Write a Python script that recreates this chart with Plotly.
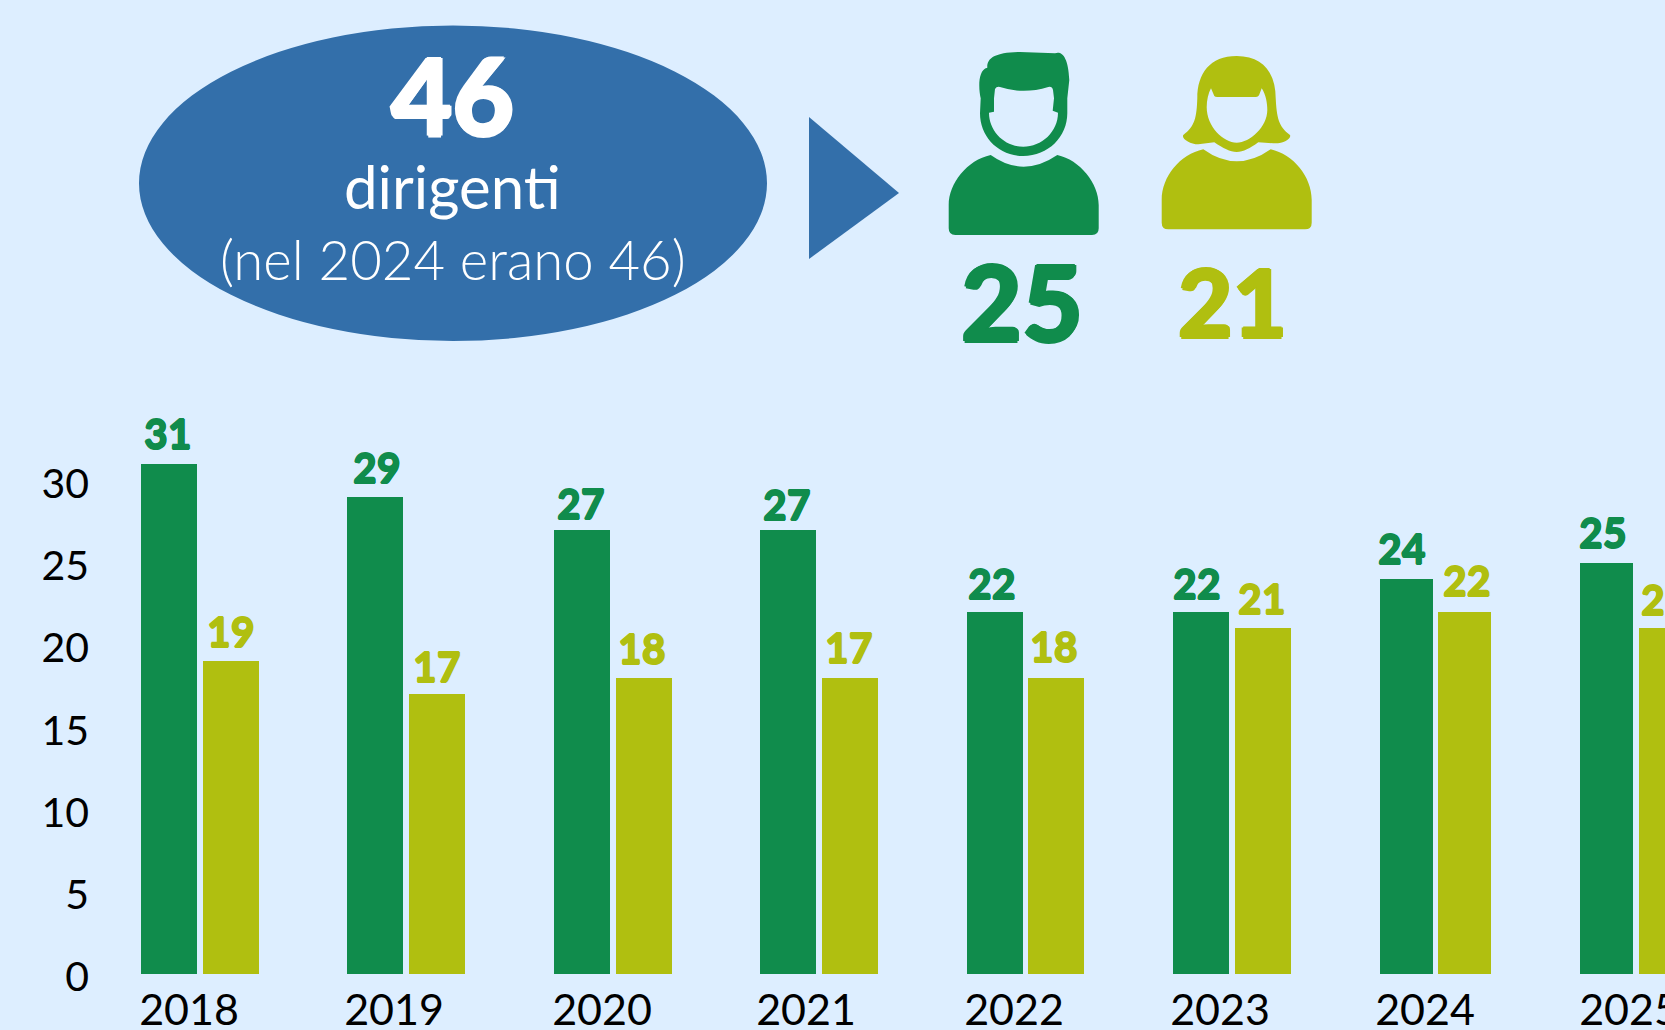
import plotly.graph_objects as go

years = [2018, 2019, 2020, 2021, 2022, 2023, 2024, 2025]
uomini = [31, 29, 27, 27, 22, 22, 24, 25]
donne = [19, 17, 18, 18, 18, 21, 22, 21]
etichette_uomini = ["31", "29", "27", "27", "22", "22", "24", "25"]
etichette_donne = ["19", "17", "18", "17", "18", "21", "22", "21"]
y_ticks = [0, 5, 10, 15, 20, 25, 30]

W, H = 1780, 1030  # the page window cuts the last group at 1665, as in the original
BG = "#DDEEFF"
GREEN = "#108C4C"
OLIVE = "#B0BF10"
BLUE = "#336FAA"
FONT = "Lato"

# horizontal layout (page pixels)
X0_PX, STEP_PX = 200.2, 206.5
green_left_px = [141, 347, 554, 760, 967, 1173, 1380, 1580]
olive_left_px = [203, 409, 616, 822, 1028, 1235, 1438, 1639]
bar_w_px = [56, 56, 56, 56, 56, 56, 53, 53]
tick_center_px = [189, 394, 602, 806, 1014, 1220, 1425, 1629]
green_dx = [0, 3, 0, 0, -2, -3, -4, -3]
green_dy = [2, 0, -3, -4, 0, 0, 2, 1]
olive_dx = [1, 1, -1, 0, -1, 0, 3, 0]
olive_dy = [1, -1, 0, 1, 2, 1, 3, 0]
BASE_PX, UNIT_PX = 974, 16.45
TOP_VALUE = 33

def nominal(y):
    return X0_PX + (y - years[0]) * STEP_PX

g_off = [(l - nominal(y)) / STEP_PX for l, y in zip(green_left_px, years)]
o_off = [(l - nominal(y)) / STEP_PX for l, y in zip(olive_left_px, years)]
widths = [w / STEP_PX for w in bar_w_px]

fig = go.Figure()
fig.add_bar(x=years, y=uomini, width=widths, offset=g_off, marker=dict(color=GREEN, line_width=0),
            name="Uomini", showlegend=False, hoverinfo="x+y")
fig.add_bar(x=years, y=donne, width=widths, offset=o_off, marker=dict(color=OLIVE, line_width=0),
            name="Donne", showlegend=False, hoverinfo="x+y")

ann = []
def heavy(color, r):
    return f"{r}px 0 0 {color}, -{r}px 0 0 {color}, 0 {r}px 0 {color}, 0 -{r}px 0 {color}"

def label(x, y, text, color, dx, dy, size=41, shift=29):
    ann.append(dict(x=x, y=y, xref="x", yref="y", text=text, showarrow=False, xshift=dx, yshift=shift + dy,
                    xanchor="center", yanchor="middle",
                    font=dict(family=FONT, size=size, color=color, weight=900, shadow=heavy(color, 0.6))))

for i, yr in enumerate(years):
    label(yr + g_off[i] + widths[i] / 2 - 1 / STEP_PX, uomini[i], etichette_uomini[i], GREEN, green_dx[i], green_dy[i])
    label(yr + o_off[i] + widths[i] / 2 - 1 / STEP_PX, donne[i], etichette_donne[i], OLIVE, olive_dx[i], olive_dy[i])

def page_text(cx, cy, text, size, color, weight=400, shadow="none"):
    ann.append(dict(x=cx, y=cy, xref="x2", yref="y2", text=text, showarrow=False,
                    xanchor="center", yanchor="middle",
                    font=dict(family=FONT, size=size, color=color, weight=weight, shadow=shadow)))

page_text(452, 94, "46", 106, "white", 900, heavy("white", 1.5))
page_text(452, 186, "dirigenti", 60, "white", 400)
page_text(453, 259, "(nel 2024 erano 46)", 54.5, "white", 300)
page_text(1022, 300, "25", 105, GREEN, 900, heavy(GREEN, 1.5))
page_text(1232, 300, "21", 94, OLIVE, 900, heavy(OLIVE, 1.5))

def zp(path):
    out = []
    for tok in path.split():
        if "," in tok:
            a, b = tok.split(",")
            out.append(f"{880 + float(a) / 3:.1f},{20 + float(b) / 3:.1f}")
        else:
            out.append(tok)
    return " ".join(out)

male_body = zp("M 332,405 Q 430,475 532,405 C 600,420 656,490 656,555 L 656,625 Q 656,645 636,645 "
               "L 226,645 Q 206,645 206,625 L 206,555 C 206,490 262,420 332,405 Z")
male_head = zp("M 322,143 C 320,115 345,97 420,96 L 525,100 C 545,92 565,110 568,180 L 562,235 L 562,280 "
               "C 562,350 505,408 430,408 C 355,408 300,350 300,280 L 302,235 C 296,210 292,150 322,143 Z "
               "M 345,207 Q 350,198 360,201 Q 430,224 505,201 Q 516,198 519,210 L 522,235 L 518,272 L 534,278 "
               "C 534,335 485,380 430,380 C 375,380 327,335 327,278 L 342,275 L 342,235 Z")
female_body = zp("M 970,388 Q 1070,460 1172,388 C 1240,403 1295,470 1295,540 L 1295,608 Q 1295,628 1275,628 "
                 "L 865,628 Q 845,628 845,608 L 845,540 C 845,470 900,403 970,388 Z")
female_head = zp("M 1070,108 C 1150,108 1187,160 1187,235 C 1190,290 1195,320 1230,345 C 1235,355 1210,372 1180,370 "
                 "L 1135,367 C 1110,385 1090,396 1070,396 C 1050,396 1030,385 1003,367 L 955,373 "
                 "C 930,373 903,355 910,345 C 945,320 950,290 952,235 C 952,160 990,108 1070,108 Z "
                 "M 993,205 L 1003,228 Q 1005,231 1012,231 L 1128,231 Q 1134,231 1137,226 L 1145,205 "
                 "C 1158,225 1162,250 1162,270 C 1162,320 1110,368 1070,368 C 1030,368 980,320 980,262 "
                 "C 980,240 985,220 993,205 Z")

def shape_path(path, color):
    return dict(type="path", xref="x2", yref="y2", path=path, fillcolor=color, fillrule="evenodd",
                line_width=0, layer="above")

shapes = [
    dict(type="circle", xref="x2", yref="y2", x0=139, x1=767, y0=25.5, y1=341,
         fillcolor=BLUE, line_width=0, layer="below"),
    shape_path("M 809,117 L 899,193 L 809,259 Z", BLUE),
    shape_path(male_body, GREEN), shape_path(male_head, GREEN),
    shape_path(female_body, OLIVE), shape_path(female_head, OLIVE),
]

fig.update_layout(
    width=W, height=H, autosize=False,
    margin=dict(l=0, r=0, t=0, b=0, pad=0),
    paper_bgcolor=BG, plot_bgcolor="rgba(0,0,0,0)",
    showlegend=False, bargap=0,
    shapes=shapes, annotations=ann,
    xaxis=dict(domain=[0, 1], range=[years[0] - X0_PX / STEP_PX, years[0] + (W - X0_PX) / STEP_PX],
               tickmode="array", tickvals=[y + (c - nominal(y)) / STEP_PX for y, c in zip(years, tick_center_px)],
               ticktext=[str(y) for y in years],
               tickfont=dict(family=FONT, size=43, color="black"), showgrid=False, zeroline=False,
               showline=False, ticks="", anchor="y", automargin=False, ticklabelstandoff=7),
    yaxis=dict(domain=[(H - BASE_PX) / H, (H - BASE_PX + TOP_VALUE * UNIT_PX) / H], range=[0, TOP_VALUE],
               tickmode="array", tickvals=y_ticks, tickfont=dict(family=FONT, size=41, color="black"),
               showgrid=False, zeroline=False, showline=False, ticks="",
               anchor="free", position=92 / W, automargin=False, ticklabelstandoff=3, ticklabelshift=3),
    xaxis2=dict(domain=[0, 1], range=[0, W], visible=False, anchor="y2", fixedrange=True, automargin=False),
    yaxis2=dict(domain=[0, 1], range=[H, 0], visible=False, anchor="x2", fixedrange=True, automargin=False),
)
# an invisible trace activates the page-pixel axes
fig.add_scatter(x=[0], y=[0], xaxis="x2", yaxis="y2", mode="markers", marker_opacity=0,
                hoverinfo="skip", showlegend=False)

fig.write_html("out.html", config=dict(displayModeBar=False),
               post_script="document.body.style.margin='0';document.body.style.background='%s';document.documentElement.style.overflow='hidden';document.body.style.overflow='hidden';" % BG)
